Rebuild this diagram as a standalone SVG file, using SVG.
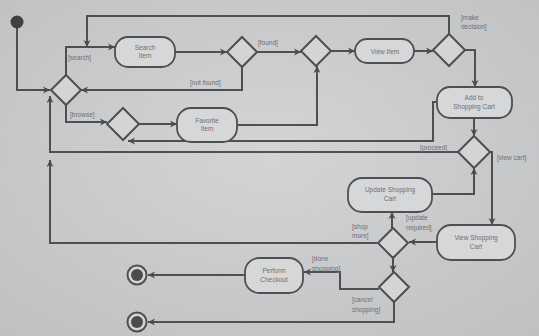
<svg xmlns="http://www.w3.org/2000/svg" width="539" height="336" viewBox="0 0 539 336">
<defs>
<marker id="ah" markerWidth="8" markerHeight="8" refX="7" refY="4" orient="auto" markerUnits="userSpaceOnUse">
<path d="M0,0.5 L7,4 L0,7.5 L2,4 Z" fill="#4a4b4d"/>
</marker>
<radialGradient id="bg" cx="50%" cy="45%" r="75%">
<stop offset="0" stop-color="#d3d4d6"/>
<stop offset="1" stop-color="#bfc0c2"/>
</radialGradient>
</defs>
<style>
.n{fill:#d6d7d9;stroke:#4e4f51;stroke-width:1.8}
.d{fill:#d3d4d6;stroke:#4e4f51;stroke-width:2}
.c{fill:none;stroke:#4e4f51;stroke-width:2;marker-end:url(#ah)}
.p{fill:none;stroke:#4e4f51;stroke-width:2}
.t{font-family:"Liberation Sans",Arial,sans-serif;font-size:6.5px;fill:#6e6f71;text-anchor:middle}
.l{font-family:"Liberation Sans",Arial,sans-serif;font-size:6.5px;fill:#6e6f71}
</style>
<rect width="539" height="336" fill="url(#bg)"/>

<g id="connectors">
<path class="c" d="M17,28 L17,90 L50,90"/>
<path class="c" d="M66,75 L66,47 L115,47"/>
<path class="c" d="M449,34 L449,16 L87,16 L87,47"/>
<path class="c" d="M175,52 L227,52"/>
<path class="c" d="M257,52 L301,52"/>
<path class="c" d="M242,67 L242,90 L81,90"/>
<path class="c" d="M331,51 L355,51"/>
<path class="c" d="M414,51 L433,51"/>
<path class="c" d="M465,50 L475,50 L475,87"/>
<path class="c" d="M237,125 L317,125 L317,66"/>
<path class="c" d="M66,105 L66,122 L107,122"/>
<path class="c" d="M139,124 L177,124"/>
<path class="c" d="M437,102 L433,102 L433,141 L128,141"/>
<path class="c" d="M474,118 L474,136"/>
<path class="c" d="M458,152 L50,152 L50,96"/>
<path class="c" d="M377,243 L50,243 L50,160"/>
<path class="c" d="M490,152 L492,152 L492,225"/>
<path class="c" d="M437,242 L409,242"/>
<path class="c" d="M392,228 L392,212"/>
<path class="c" d="M432,194 L474,194 L474,168"/>
<path class="c" d="M393,258 L393,272"/>
<path class="c" d="M379,289 L340,289 L340,272 L304,272"/>
<path class="c" d="M245,275 L148,275"/>
<path class="c" d="M394,302 L394,322 L148,322"/>
</g>

<g id="labels">
<text class="l" x="68" y="60">[search]</text>
<text class="l" x="190" y="85">[not found]</text>
<text class="l" x="258" y="45">[found]</text>
<text class="l" x="461" y="20">[make</text>
<text class="l" x="461" y="29">decision]</text>
<text class="l" x="70" y="117">[browse]</text>
<text class="l" x="420" y="150">[proceed]</text>
<text class="l" x="497" y="160">[view cart]</text>
<text class="l" x="406" y="220">[update</text>
<text class="l" x="406" y="230">required]</text>
<text class="l" x="352" y="229">[shop</text>
<text class="l" x="352" y="238">more]</text>
<text class="l" x="312" y="261">[done</text>
<text class="l" x="312" y="271">shopping]</text>
<text class="l" x="352" y="302">[cancel</text>
<text class="l" x="352" y="312">shopping]</text>
</g>

<g id="start"><circle cx="17" cy="22" r="6.5" fill="#3f4042"/></g>
<g id="d1"><path class="d" d="M66,75 L81,90 L66,105 L51,90 Z"/></g>
<g id="searchItem"><rect class="n" x="115" y="37" width="60" height="30" rx="13"/><text class="t" x="145" y="50">Search</text><text class="t" x="145" y="58">Item</text></g>
<g id="d2"><path class="d" d="M242,37 L257,52 L242,67 L227,52 Z"/></g>
<g id="d3"><path class="d" d="M316,36 L331,51 L316,66 L301,51 Z"/></g>
<g id="viewItem"><rect class="n" x="355" y="39" width="59" height="24" rx="12"/><text class="t" x="385" y="53.5">View Item</text></g>
<g id="d4"><path class="d" d="M449,34 L465,50 L449,66 L433,50 Z"/></g>
<g id="addToCart"><rect class="n" x="437" y="87" width="75" height="31" rx="13"/><text class="t" x="474" y="100">Add to</text><text class="t" x="474" y="109">Shopping Cart</text></g>
<g id="d5"><path class="d" d="M123,108 L139,124 L123,140 L107,124 Z"/></g>
<g id="favoriteItem"><rect class="n" x="177" y="108" width="60" height="34" rx="14"/><text class="t" x="207" y="123">Favorite</text><text class="t" x="207" y="131">Item</text></g>
<g id="d6"><path class="d" d="M474,136 L490,152 L474,168 L458,152 Z"/></g>
<g id="updateCart"><rect class="n" x="348" y="178" width="84" height="34" rx="14"/><text class="t" x="390" y="192">Update Shopping</text><text class="t" x="390" y="201">Cart</text></g>
<g id="viewCart"><rect class="n" x="437" y="225" width="78" height="35" rx="14"/><text class="t" x="476" y="240">View Shopping</text><text class="t" x="476" y="249">Cart</text></g>
<g id="d7"><path class="d" d="M393,228 L408,243 L393,258 L378,243 Z"/></g>
<g id="d8"><path class="d" d="M394,272 L409,287 L394,302 L379,287 Z"/></g>
<g id="checkout"><rect class="n" x="245" y="258" width="58" height="35" rx="14"/><text class="t" x="274" y="273">Perform</text><text class="t" x="274" y="282">Checkout</text></g>
<g id="end1"><circle cx="137" cy="275" r="9.5" fill="#d3d4d6" stroke="#4e4f51" stroke-width="2"/><circle cx="137" cy="275" r="6" fill="#4a4b4d"/></g>
<g id="end2"><circle cx="137" cy="322" r="9.5" fill="#d3d4d6" stroke="#4e4f51" stroke-width="2"/><circle cx="137" cy="322" r="6" fill="#4a4b4d"/></g>
</svg>
